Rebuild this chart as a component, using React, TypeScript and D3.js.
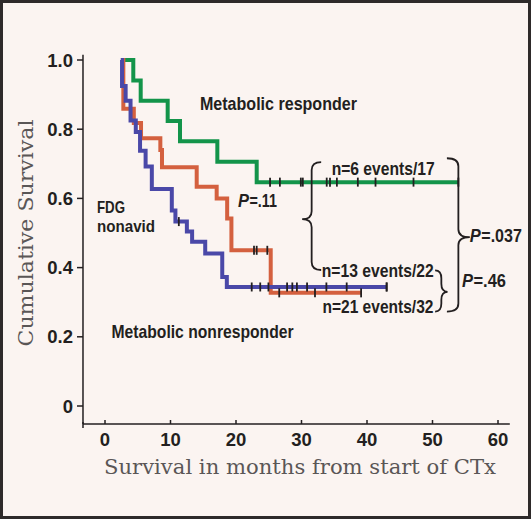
import React from 'react';
import * as d3 from 'd3';

const W = 531;
const H = 519;

// Axis ticks
const xTicks = [0, 10, 20, 30, 40, 50, 60];
const yTicks = [0, 0.2, 0.4, 0.6, 0.8, 1.0];
const yTickLabels = ['0', '0.2', '0.4', '0.6', '0.8', '1.0'];

// Metabolic responder (green), n=17, 6 events
const greenTimes = [2.6, 4.32, 5.45, 9.57, 11.45, 17.15, 23.16];
const greenLevels = [1, 0.941, 0.882, 0.824, 0.765, 0.706, 0.647];
const greenEnd = 53.95;
const greenCensor = [25.2, 26.7, 29.9, 30.2, 33.85, 34.35, 35.4, 38.6, 41.3, 47.1];

// Metabolic nonresponder (red), n=22, 13 events
const redTimes = [2.6, 2.8, 4.4, 5.5, 8.45, 8.7, 14.0, 17.05, 18.65, 19.3, 25.3];
const redLevels = [1, 0.859, 0.818, 0.774, 0.74, 0.69, 0.634, 0.6, 0.542, 0.45, 0.327];
const redEnd = 39.1;
const redCensor = [22.75, 23.16, 24.78, 26.6, 32.06];

// FDG nonavid (blue), n=32, 21 events
const blueTimes = [2.4, 2.6, 3.15, 3.9, 4.7, 5.35, 6.2, 7.15, 10.2, 10.75, 12.5, 13.3, 15.3, 17.9, 18.6];
const blueLevels = [1, 0.925, 0.882, 0.825, 0.792, 0.738, 0.692, 0.627, 0.565, 0.533, 0.504, 0.475, 0.441, 0.373, 0.344];
const blueEnd = 43.0;
const blueCensor = [11.27, 22.4, 23.7, 24.95, 27.8, 28.6, 29.3, 30.85, 33.8, 36.9, 43.0];

const GREEN = '#13944a';
const RED = '#d4603f';
const BLUE = '#4a48a8';
const INK = '#231f20';

const x = d3.scaleLinear().domain([0, 60]).range([105, 498]);
const y = d3.scaleLinear().domain([0, 1]).range([406, 60]);

const X_MIN = -3.36;
const X_MAX = 61.8;
const Y_MIN = -0.052;
const Y_MAX = 1.015;

type Curve = { times: number[]; levels: number[]; end: number; censor: number[]; color: string };

const curves: Curve[] = [
  { times: greenTimes, levels: greenLevels, end: greenEnd, censor: greenCensor, color: GREEN },
  { times: redTimes, levels: redLevels, end: redEnd, censor: redCensor, color: RED },
  { times: blueTimes, levels: blueLevels, end: blueEnd, censor: blueCensor, color: BLUE },
];

const line = d3
  .line<[number, number]>()
  .x((d) => x(d[0]))
  .y((d) => y(d[1]))
  .curve(d3.curveStepAfter);

function levelAt(c: Curve, t: number) {
  let v = c.levels[0];
  for (let i = 0; i < c.times.length; i++) if (c.times[i] <= t) v = c.levels[i];
  return v;
}

// Curly brace: hook end at xh, tip at xt (pixels), from y1 to y2 with tip at ym
function brace(xh: number, xt: number, y1: number, y2: number, ym: number) {
  const xs = (xh + xt) / 2;
  const r = Math.min(8, Math.abs(ym - y1) / 2, Math.abs(y2 - ym) / 2);
  const p = d3.path();
  p.moveTo(xh, y1);
  p.quadraticCurveTo(xs, y1, xs, y1 + r);
  p.lineTo(xs, ym - r);
  p.quadraticCurveTo(xs, ym, xt, ym);
  p.quadraticCurveTo(xs, ym, xs, ym + r);
  p.lineTo(xs, y2 - r);
  p.quadraticCurveTo(xs, y2, xh, y2);
  return p.toString();
}

const annFont = "'Liberation Sans Narrow', 'Arial Narrow', 'Liberation Sans', sans-serif";
const tickFont = "'Liberation Sans', Arial, sans-serif";
const titleFont = "'DejaVu Serif', serif";

function Ann({ t, v, text, len, size = 19 }: { t: number; v: number; text: string; len: number; size?: number }) {
  return (
    <text x={x(t)} y={y(v)} fontFamily={annFont} fontWeight="bold" fontSize={size} fill={INK} textLength={len} lengthAdjust="spacingAndGlyphs">
      {text}
    </text>
  );
}

function PAnn({ t, v, text, len }: { t: number; v: number; text: string; len: number }) {
  const pw = 11;
  return (
    <g>
      <text x={x(t)} y={y(v)} fontFamily={annFont} fontWeight="bold" fontStyle="italic" fontSize={19} fill={INK} textLength={pw} lengthAdjust="spacingAndGlyphs">
        P
      </text>
      <text x={x(t) + pw + 0.5} y={y(v)} fontFamily={annFont} fontWeight="bold" fontSize={19} fill={INK} textLength={len - pw - 0.5} lengthAdjust="spacingAndGlyphs">
        {text}
      </text>
    </g>
  );
}

export default function App() {
  return (
    <svg width={W} height={H} style={{ position: 'absolute', left: 0, top: 0 }}>
      <rect x={0} y={0} width={W} height={H} fill="#fbf4f1" />
      <rect x={1.5} y={1.5} width={W - 3} height={H - 3} fill="none" stroke="#2e2a2a" strokeWidth={3} />

      {/* axes */}
      <line x1={x(X_MIN)} x2={x(X_MAX)} y1={y(Y_MIN)} y2={y(Y_MIN)} stroke={INK} strokeWidth={1.5} />
      <line x1={x(X_MIN)} x2={x(X_MIN)} y1={y(Y_MAX)} y2={y(Y_MIN)} stroke={INK} strokeWidth={1.5} />
      <line x1={x(X_MIN)} x2={x(X_MIN)} y1={y(Y_MIN) - 2} y2={y(Y_MIN) + 4} stroke={INK} strokeWidth={1.5} />
      {xTicks.map((t) => (
        <g key={'xt' + t}>
          <line x1={x(t)} x2={x(t)} y1={y(Y_MIN)} y2={y(Y_MIN) - 4} stroke={INK} strokeWidth={1.5} />
          <text x={x(t)} y={y(Y_MIN) + 22.5} textAnchor="middle" fontFamily={tickFont} fontWeight="bold" fontSize={18.5} fill={INK}>
            {t}
          </text>
        </g>
      ))}
      {yTicks.map((v, i) => (
        <g key={'yt' + v}>
          <line x1={x(X_MIN) - 6} x2={x(X_MIN)} y1={y(v)} y2={y(v)} stroke={INK} strokeWidth={1.5} />
          <text x={x(X_MIN) - 10} y={y(v)} dy="0.36em" textAnchor="end" fontFamily={tickFont} fontWeight="bold" fontSize={18.5} fill={INK}>
            {yTickLabels[i]}
          </text>
        </g>
      ))}
      <text x={104} y={474} fontFamily={titleFont} fontSize={20} fill="#5a5656" textLength={392} lengthAdjust="spacingAndGlyphs">
        Survival in months from start of CTx
      </text>
      <text transform="translate(33,233) rotate(-90)" textAnchor="middle" fontFamily={titleFont} fontSize={20} fill="#5a5656" textLength={227} lengthAdjust="spacingAndGlyphs">
        Cumulative Survival
      </text>

      {/* survival curves */}
      {curves.map((c, ci) => {
        const pts: [number, number][] = c.times.map((t, i) => [t, c.levels[i]] as [number, number]);
        pts.push([c.end, c.levels[c.levels.length - 1]]);
        return (
          <g key={'c' + ci}>
            <path d={line(pts) ?? ''} fill="none" stroke={c.color} strokeWidth={4} strokeLinejoin="miter" strokeLinecap="butt" />
          </g>
        );
      })}
      {curves.map((c, ci) => (
        <g key={'cs' + ci}>
          {[...c.censor, c.end].map((t, i) => (
            <line key={i} x1={x(t)} x2={x(t)} y1={y(levelAt(c, t)) - 4.5} y2={y(levelAt(c, t)) + 4.5} stroke={INK} strokeWidth={1.8} />
          ))}
        </g>
      ))}

      {/* annotations */}
      <Ann t={14.5} v={0.855} text="Metabolic responder" len={157} />
      <PAnn t={20.3} v={0.576} text="=.11" len={39} />
      <Ann t={-1.22} v={0.557} text="FDG" len={28} size={17} />
      <Ann t={-1.22} v={0.504} text="nonavid" len={58} size={17} />
      <Ann t={1.0} v={0.196} text="Metabolic nonresponder" len={182} />
      <Ann t={34.6} v={0.668} text="n=6 events/17" len={103} />
      <Ann t={33.1} v={0.374} text="n=13 events/22" len={112} />
      <Ann t={33.2} v={0.27} text="n=21 events/32" len={111} />
      <PAnn t={54.5} v={0.345} text="=.46" len={44} />
      <PAnn t={55.7} v={0.475} text="=.037" len={52} />

      {/* braces */}
      <path d={brace(x(33.0), x(30.1), y(0.705), y(0.393), y(0.54))} fill="none" stroke={INK} strokeWidth={1.8} />
      <path d={brace(x(50.4), x(52.3), y(0.392), y(0.273), y(0.33))} fill="none" stroke={INK} strokeWidth={1.8} />
      <path d={brace(x(52.2), x(55.7), y(0.716), y(0.273), y(0.488))} fill="none" stroke={INK} strokeWidth={1.8} />
    </svg>
  );
}
